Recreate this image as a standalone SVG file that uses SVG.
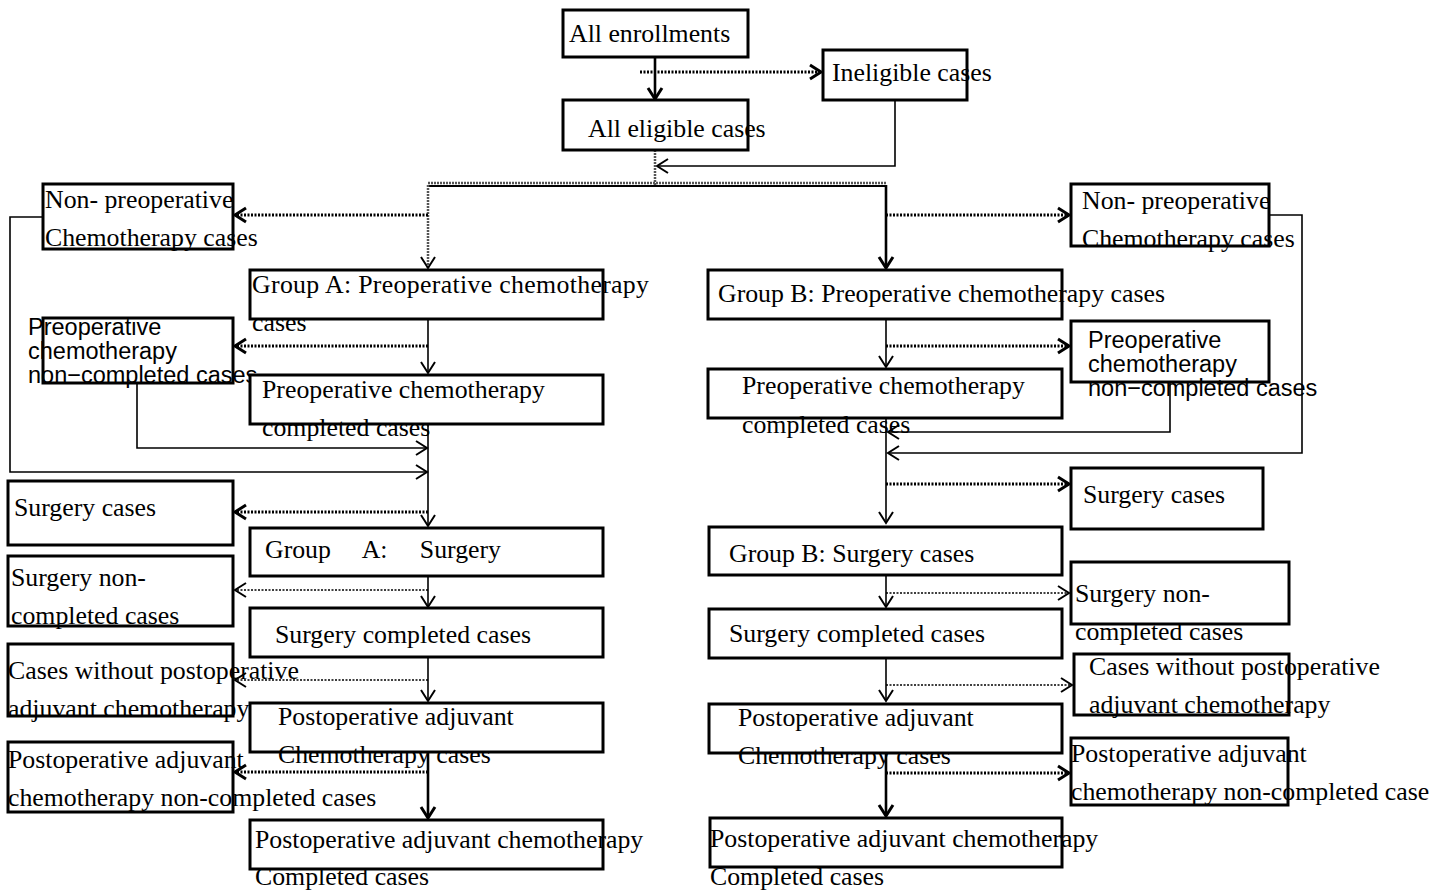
<svg xmlns="http://www.w3.org/2000/svg" width="1431" height="890" viewBox="0 0 1431 890">
<style>
.box{fill:#fff;stroke:#000;stroke-width:3}
.t{font-family:"Liberation Serif",serif;font-size:25.8px;fill:#000}
.s{font-family:"Liberation Sans",sans-serif;font-size:23.5px;fill:#000}
.c{fill:none;stroke:#000;stroke-width:1.6}
.ck{fill:none;stroke:#000;stroke-width:2.6}
.d{fill:none;stroke:#000;stroke-width:3;stroke-dasharray:2 1.5}
.dt{fill:none;stroke:#000;stroke-width:1.6;stroke-dasharray:2 1.5}
.g{fill:none;stroke:#555;stroke-width:2.5;stroke-dasharray:2 1}
</style>
<defs>
<marker id="a" markerUnits="userSpaceOnUse" markerWidth="14" markerHeight="16" refX="12" refY="8" orient="auto" overflow="visible"><path d="M1,1 L12,8 L1,15" fill="none" stroke="#000" stroke-width="2"/></marker>
<marker id="ab" markerUnits="userSpaceOnUse" markerWidth="14" markerHeight="16" refX="12" refY="8" orient="auto" overflow="visible"><path d="M1,1 L12,8 L1,15" fill="none" stroke="#000" stroke-width="3"/></marker>
</defs>
<rect width="1431" height="890" fill="#fff"/>
<g id="connectors">
<line class="ck" x1="655" y1="57" x2="655" y2="99" marker-end="url(#ab)"/>
<line class="d" x1="640" y1="72" x2="821" y2="72" marker-end="url(#ab)"/>
<polyline class="c" points="895,100 895,166 657,166" marker-end="url(#a)"/>
<line class="g" x1="655" y1="150" x2="655" y2="185"/>
<line class="g" x1="428" y1="183" x2="886" y2="183"/>
<line class="c" x1="428" y1="186" x2="886" y2="186" style="stroke-width:2"/>
<line class="g" x1="428" y1="185" x2="428" y2="268" marker-end="url(#a)"/>
<line class="ck" x1="886" y1="185" x2="886" y2="268" marker-end="url(#ab)"/>
<line class="d" x1="428" y1="215" x2="235" y2="215" marker-end="url(#ab)"/>
<line class="d" x1="886" y1="215" x2="1069" y2="215" marker-end="url(#ab)"/>
<line class="c" x1="428" y1="319" x2="428" y2="373" marker-end="url(#a)"/>
<line class="d" x1="428" y1="346" x2="235" y2="346" marker-end="url(#ab)"/>
<polyline class="c" points="137,383 137,448 427,448" marker-end="url(#a)"/>
<polyline class="c" points="43,217 10,217 10,472 427,472" marker-end="url(#a)"/>
<line class="c" x1="428" y1="424" x2="428" y2="526" marker-end="url(#a)"/>
<line class="d" x1="428" y1="512" x2="235" y2="512" marker-end="url(#ab)"/>
<line class="c" x1="428" y1="576" x2="428" y2="607" marker-end="url(#a)"/>
<line class="dt" x1="428" y1="590" x2="235" y2="590" marker-end="url(#a)"/>
<line class="c" x1="428" y1="657" x2="428" y2="701" marker-end="url(#a)"/>
<line class="dt" x1="428" y1="680" x2="235" y2="680" marker-end="url(#a)"/>
<line class="ck" x1="428" y1="752" x2="428" y2="818" marker-end="url(#ab)"/>
<line class="d" x1="428" y1="772" x2="235" y2="772" marker-end="url(#ab)"/>
<polyline class="c" points="1269,215 1302,215 1302,453 888,453" marker-end="url(#a)"/>
<line class="c" x1="886" y1="319" x2="886" y2="367" marker-end="url(#a)"/>
<line class="d" x1="886" y1="346" x2="1069" y2="346" marker-end="url(#ab)"/>
<polyline class="c" points="1170,382 1170,432 888,432" marker-end="url(#a)"/>
<line class="c" x1="886" y1="418" x2="886" y2="523" marker-end="url(#a)"/>
<line class="d" x1="886" y1="484" x2="1069" y2="484" marker-end="url(#ab)"/>
<line class="c" x1="886" y1="575" x2="886" y2="607" marker-end="url(#a)"/>
<line class="dt" x1="886" y1="593" x2="1069" y2="593" marker-end="url(#a)"/>
<line class="c" x1="886" y1="658" x2="886" y2="701" marker-end="url(#a)"/>
<line class="dt" x1="886" y1="685" x2="1072" y2="685" marker-end="url(#a)"/>
<line class="ck" x1="886" y1="753" x2="886" y2="816" marker-end="url(#ab)"/>
<line class="d" x1="886" y1="773" x2="1069" y2="773" marker-end="url(#ab)"/>
</g>
<g id="n_enroll"><rect class="box" x="563" y="10" width="185" height="47"/><text class="t" x="569" y="42">All enrollments</text></g>
<g id="n_inelig"><rect class="box" x="823" y="50" width="144" height="50"/><text class="t" x="832" y="81">Ineligible cases</text></g>
<g id="n_elig"><rect class="box" x="563" y="100" width="185" height="50"/><text class="t" x="588" y="137">All eligible cases</text></g>

<g id="n_a_nonpre"><rect class="box" x="43" y="184" width="190" height="65"/><text class="t" x="45" y="208">Non- preoperative</text><text class="t" x="45" y="246">Chemotherapy cases</text></g>
<g id="n_a_pre"><rect class="box" x="250" y="270" width="353" height="49"/><text class="t" x="252" y="293" textLength="397" lengthAdjust="spacing">Group  A:  Preoperative  chemotherapy</text><text class="t" x="252" y="331">cases</text></g>
<g id="n_a_prenc"><rect class="box" x="43" y="318" width="190" height="65"/><text class="s" x="28" y="335">Preoperative</text><text class="s" x="28" y="359">chemotherapy</text><text class="s" x="28" y="383">non−completed cases</text></g>
<g id="n_a_prec"><rect class="box" x="250" y="375" width="353" height="49"/><text class="t" x="262" y="398">Preoperative chemotherapy</text><text class="t" x="262" y="436">completed cases</text></g>
<g id="n_a_surgcases"><rect class="box" x="8" y="481" width="225" height="64"/><text class="t" x="14" y="516">Surgery cases</text></g>
<g id="n_a_surg"><rect class="box" x="250" y="528" width="353" height="48"/><text class="t" x="265" y="558" xml:space="preserve">Group     A:     Surgery</text></g>
<g id="n_a_surgnc"><rect class="box" x="8" y="556" width="225" height="70"/><text class="t" x="11" y="586">Surgery non-</text><text class="t" x="11" y="624">completed cases</text></g>
<g id="n_a_surgc"><rect class="box" x="250" y="608" width="353" height="49"/><text class="t" x="275" y="643">Surgery completed cases</text></g>
<g id="n_a_nopost"><rect class="box" x="8" y="644" width="225" height="72"/><text class="t" x="8" y="679">Cases without postoperative</text><text class="t" x="8" y="717">adjuvant chemotherapy</text></g>
<g id="n_a_post"><rect class="box" x="250" y="703" width="353" height="49"/><text class="t" x="278" y="725">Postoperative adjuvant</text><text class="t" x="278" y="763">Chemotherapy cases</text></g>
<g id="n_a_postnc"><rect class="box" x="8" y="742" width="225" height="70"/><text class="t" x="8" y="768">Postoperative adjuvant</text><text class="t" x="8" y="806">chemotherapy non-completed cases</text></g>
<g id="n_a_postc"><rect class="box" x="250" y="820" width="353" height="49"/><text class="t" x="255" y="848">Postoperative adjuvant chemotherapy</text><text class="t" x="255" y="885">Completed cases</text></g>

<g id="n_b_nonpre"><rect class="box" x="1071" y="184" width="198" height="62"/><text class="t" x="1082" y="209">Non- preoperative</text><text class="t" x="1082" y="247">Chemotherapy cases</text></g>
<g id="n_b_pre"><rect class="box" x="708" y="270" width="354" height="49"/><text class="t" x="718" y="302">Group B: Preoperative chemotherapy cases</text></g>
<g id="n_b_prenc"><rect class="box" x="1071" y="321" width="198" height="61"/><text class="s" x="1088" y="348">Preoperative</text><text class="s" x="1088" y="372">chemotherapy</text><text class="s" x="1088" y="396">non−completed cases</text></g>
<g id="n_b_prec"><rect class="box" x="708" y="369" width="354" height="49"/><text class="t" x="742" y="394">Preoperative chemotherapy</text><text class="t" x="742" y="433">completed cases</text></g>
<g id="n_b_surgcases"><rect class="box" x="1071" y="468" width="192" height="61"/><text class="t" x="1083" y="503">Surgery cases</text></g>
<g id="n_b_surg"><rect class="box" x="709" y="527" width="353" height="48"/><text class="t" x="729" y="562">Group B: Surgery cases</text></g>
<g id="n_b_surgnc"><rect class="box" x="1071" y="562" width="218" height="62"/><text class="t" x="1075" y="602">Surgery non-</text><text class="t" x="1075" y="640">completed cases</text></g>
<g id="n_b_surgc"><rect class="box" x="709" y="609" width="353" height="49"/><text class="t" x="729" y="642">Surgery completed cases</text></g>
<g id="n_b_nopost"><rect class="box" x="1074" y="654" width="215" height="61"/><text class="t" x="1089" y="675">Cases without postoperative</text><text class="t" x="1089" y="713">adjuvant chemotherapy</text></g>
<g id="n_b_post"><rect class="box" x="709" y="704" width="353" height="49"/><text class="t" x="738" y="726">Postoperative adjuvant</text><text class="t" x="738" y="764">Chemotherapy cases</text></g>
<g id="n_b_postnc"><rect class="box" x="1071" y="738" width="217" height="67"/><text class="t" x="1071" y="762">Postoperative adjuvant</text><text class="t" x="1071" y="800">chemotherapy non-completed case</text></g>
<g id="n_b_postc"><rect class="box" x="710" y="818" width="352" height="49"/><text class="t" x="710" y="847">Postoperative adjuvant chemotherapy</text><text class="t" x="710" y="885">Completed cases</text></g>
</svg>
